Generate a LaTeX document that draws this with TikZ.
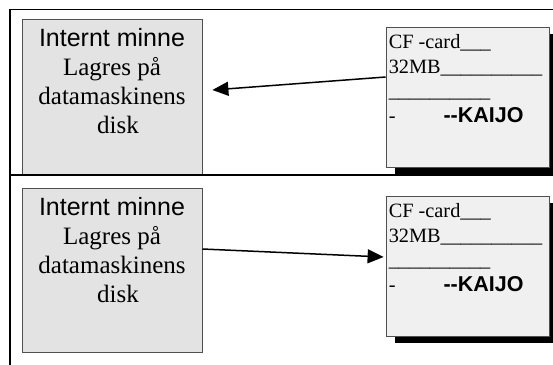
\documentclass[tikz,border=0pt]{standalone}
\usepackage{fontspec}
\setmainfont{Liberation Serif}
\setsansfont{Liberation Sans}
\usetikzlibrary{arrows.meta,shadows}

\definecolor{memfill}{HTML}{E3E3E3}
\definecolor{cardfill}{HTML}{F0F0F0}
\definecolor{edgegray}{HTML}{505050}

\begin{document}
\begin{tikzpicture}[x=1pt,y=-1pt,
	membox/.style={draw=edgegray, fill=memfill, line width=0.8pt, minimum width=180pt, inner sep=0pt},
	cardbox/.style={draw=edgegray, fill=cardfill, line width=0.8pt, minimum width=163pt, minimum height=140pt, inner sep=0pt,
		drop shadow={shadow xshift=9pt, shadow yshift=-7pt, fill=black, opacity=1}},
	memtext/.style={anchor=north, align=center, inner sep=0pt, font=\rmfamily\fontsize{25}{29}\selectfont},
	cardtext/.style={anchor=north west, align=left, inner sep=0pt, font=\rmfamily\fontsize{20.3}{24.5}\selectfont},
	frame/.style={line width=1.6pt},
	arrow/.style={line width=1.5pt, -{Triangle[length=16pt,width=14pt]}}]
	\useasboundingbox (0,0) rectangle (553,364);
	\node[membox, minimum height=155pt] (mem1) at (112,96.5) {};
	\node[membox, minimum height=164pt] (mem2) at (112,270) {};
	\node[cardbox] (card1) at (467.5,97) {};
	\node[cardbox] (card2) at (467.5,266) {};
	\draw[frame] (10,370) -- (10,9.5) -- (560,9.5);
	\draw[frame] (10,175) -- (560,175);
	\node[memtext] (mem1txt) at ([yshift=-9.5pt]mem1.north) {{\sffamily Internt minne}\\Lagres på\\datamaskinens\\\hspace*{12pt}disk};
	\node[memtext] (mem2txt) at ([yshift=-9.5pt]mem2.north) {{\sffamily Internt minne}\\Lagres på\\datamaskinens\\\hspace*{12pt}disk};
	\node[cardtext] (card1txt) at ([xshift=3pt,yshift=-8pt]card1.north west) {CF -card\_\_\_\\32MB\_\_\_\_\_\_\_\_\_\_\\\_\_\_\_\_\_\_\_\_\_\\-\hspace{48pt}{\sffamily\bfseries\fontsize{21.5}{24.5}\selectfont -{}-KAIJO}};
	\node[cardtext] (card2txt) at ([xshift=3pt,yshift=-8pt]card2.north west) {CF -card\_\_\_\\32MB\_\_\_\_\_\_\_\_\_\_\\\_\_\_\_\_\_\_\_\_\_\\-\hspace{48pt}{\sffamily\bfseries\fontsize{21.5}{24.5}\selectfont -{}-KAIJO}};
	\draw[arrow] ([yshift=20pt]card1.west) -- ([xshift=10pt,yshift=6.5pt]mem1.east);
	\draw[arrow] ([yshift=21pt]mem2.east) -- ([xshift=-2pt,yshift=9pt]card2.west);
\end{tikzpicture}
\end{document}
